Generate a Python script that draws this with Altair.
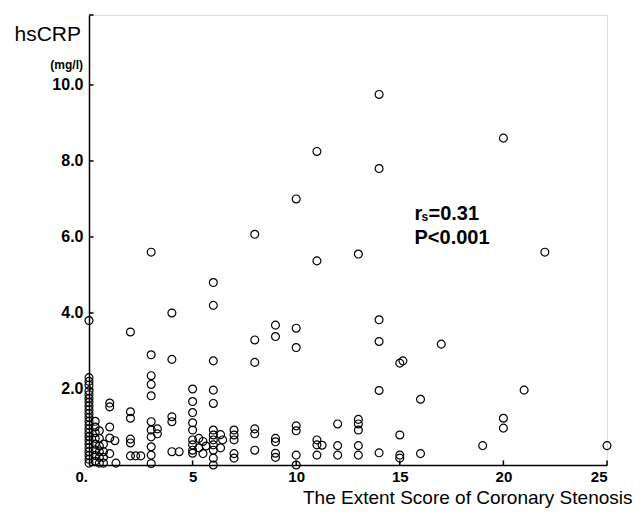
import altair as alt
import pandas as pd

# Extent score of coronary stenosis (x) and hsCRP in mg/l (y)
score = (
    [0] * 24 + [0.3] * 8 + [0.5] * 6 + [0.7] * 4 +
    [1] * 5 + [1.25, 1.3] +
    [2] * 6 + [2.25, 2.5] +
    [3] * 11 + [3.3, 3.3] +
    [4] * 5 + [4.35] +
    [5] * 9 + [5.3, 5.3, 5.5, 5.5, 5.65] +
    [6] * 12 + [6.35, 6.35, 6.45] +
    [7] * 5 +
    [8] * 6 +
    [9] * 6 +
    [10] * 7 +
    [11] * 5 + [11.25] +
    [12] * 3 +
    [13] * 6 +
    [14] * 6 +
    [15] * 4 + [15.15] +
    [16] * 2 +
    [17, 19] +
    [20] * 3 +
    [21, 22, 25]
)
hscrp = (
    [3.8, 2.3, 2.2, 2.1, 1.95, 1.85, 1.75, 1.65, 1.55, 1.45, 1.35, 1.25,
     1.15, 1.05, 0.95, 0.85, 0.75, 0.65, 0.55, 0.45, 0.35, 0.25, 0.15, 0.05] +
    [1.15, 1.0, 0.85, 0.7, 0.55, 0.4, 0.25, 0.1] +
    [0.9, 0.7, 0.5, 0.35, 0.2, 0.05] +
    [0.55, 0.35, 0.2, 0.05] +
    [1.63, 1.53, 1.0, 0.71, 0.3] + [0.64, 0.05] +
    [3.5, 1.4, 1.23, 0.68, 0.58, 0.24] + [0.24, 0.24] +
    [5.6, 2.9, 2.35, 2.12, 1.82, 1.14, 0.92, 0.74, 0.48, 0.26, 0.04] + [0.95, 0.82] +
    [4.0, 2.78, 1.27, 1.14, 0.35] + [0.35] +
    [2.0, 1.67, 1.38, 1.11, 0.92, 0.66, 0.53, 0.39, 0.31] + [0.7, 0.45, 0.62, 0.3, 0.5] +
    [4.8, 4.2, 2.74, 1.97, 1.62, 0.92, 0.79, 0.66, 0.53, 0.39, 0.18, 0.0] + [0.8, 0.45, 0.66] +
    [0.92, 0.79, 0.66, 0.3, 0.18] +
    [6.07, 3.29, 2.7, 0.95, 0.82, 0.39] +
    [3.68, 3.38, 0.7, 0.61, 0.31, 0.2] +
    [7.0, 3.6, 3.09, 1.03, 0.9, 0.26, 0.0] +
    [8.25, 5.37, 0.66, 0.53, 0.26] + [0.52] +
    [1.08, 0.51, 0.26] +
    [5.55, 1.2, 1.08, 0.92, 0.51, 0.26] +
    [9.75, 7.8, 3.82, 3.25, 1.96, 0.32] +
    [2.68, 0.79, 0.26, 0.18] + [2.74] +
    [1.73, 0.3] +
    [3.18, 0.51] +
    [8.6, 1.23, 0.97] +
    [1.97, 5.6, 0.51]
)

x_ticks = [5, 10, 15, 20, 25]
y_ticks = [2, 4, 6, 8, 10]
y_top = 11.84
x_max = 25

FONT = "Liberation Sans"

pts = pd.DataFrame({"s": score, "v": hscrp})

xs = alt.Scale(domain=[0, x_max], nice=False, zero=True)
ys = alt.Scale(domain=[0, y_top], nice=False, zero=True)

points = alt.Chart(pts).mark_point(
    shape="circle", filled=False, color="black", size=62, strokeWidth=1.2, opacity=1
).encode(
    x=alt.X("s:Q", scale=xs, axis=alt.Axis(
        values=x_ticks, ticks=False, grid=False, labelPadding=4,
        labelFontSize=15, labelFontWeight="bold", labelColor="black", labelFont=FONT,
        domainColor="black", domainWidth=1.5,
        title="The Extent Score of Coronary Stenosis", titleFont=FONT,
        titleFontSize=19, titleFontWeight="normal", titleColor="black",
        titleAlign="right", titleAnchor="end", titleBaseline="alphabetic",
        titleX=543, titleY=38)),
    y=alt.Y("v:Q", scale=ys, axis=alt.Axis(
        values=y_ticks, format=".1f", ticks=False, grid=False, labelPadding=6,
        labelFontSize=16, labelFontWeight="bold", labelColor="black", labelFont=FONT,
        domainColor="black", domainWidth=1.5, title=None)),
)

# inward tick marks
ytick_df = pd.DataFrame({"v": y_ticks + [y_top], "s0": 0.0, "s1": 0.22})
yticks = alt.Chart(ytick_df).mark_rule(color="black", strokeWidth=1.5).encode(
    x=alt.X("s0:Q", scale=xs), x2="s1:Q", y=alt.Y("v:Q", scale=ys))
xtick_df = pd.DataFrame({"s": x_ticks, "v0": 0.0, "v1": 0.12})
xticks = alt.Chart(xtick_df).mark_rule(color="black", strokeWidth=1.5).encode(
    x=alt.X("s:Q", scale=xs), y=alt.Y("v0:Q", scale=ys), y2="v1:Q")

# origin label
origin = alt.Chart(pd.DataFrame({"s": [0], "v": [0], "t": ["0."]})).mark_text(
    align="right", baseline="top", dx=-1, dy=5, fontSize=15, fontWeight="bold",
    font=FONT, color="black").encode(
    x=alt.X("s:Q", scale=xs), y=alt.Y("v:Q", scale=ys), text="t:N")

# y-axis title and unit
ytitle = alt.Chart(pd.DataFrame({"s": [0], "v": [11.32], "t": ["hsCRP"]})).mark_text(
    align="right", baseline="middle", dx=-8, fontSize=21, font=FONT, color="black").encode(
    x=alt.X("s:Q", scale=xs), y=alt.Y("v:Q", scale=ys), text="t:N")
yunit = alt.Chart(pd.DataFrame({"s": [0], "v": [10.53], "t": ["(mg/l)"]})).mark_text(
    align="right", baseline="middle", dx=-6, fontSize=12, fontWeight="bold",
    font=FONT, color="black").encode(
    x=alt.X("s:Q", scale=xs), y=alt.Y("v:Q", scale=ys), text="t:N")

# statistics annotation
ann_x = 15.71
r_txt = alt.Chart(pd.DataFrame({"s": [ann_x], "v": [6.45], "t": ["r"]})).mark_text(
    align="left", baseline="alphabetic", fontSize=20, fontWeight="bold", font=FONT,
    color="black").encode(x=alt.X("s:Q", scale=xs), y=alt.Y("v:Q", scale=ys), text="t:N")
s_txt = alt.Chart(pd.DataFrame({"s": [ann_x], "v": [6.45], "t": ["s"]})).mark_text(
    align="left", baseline="alphabetic", dx=7, dy=1, fontSize=12, fontWeight="bold",
    font=FONT, color="black").encode(
    x=alt.X("s:Q", scale=xs), y=alt.Y("v:Q", scale=ys), text="t:N")
eq_txt = alt.Chart(pd.DataFrame({"s": [ann_x], "v": [6.45], "t": ["=0.31"]})).mark_text(
    align="left", baseline="alphabetic", dx=14, fontSize=20, fontWeight="bold",
    font=FONT, color="black").encode(
    x=alt.X("s:Q", scale=xs), y=alt.Y("v:Q", scale=ys), text="t:N")
p_txt = alt.Chart(pd.DataFrame({"s": [ann_x], "v": [5.82], "t": ["P<0.001"]})).mark_text(
    align="left", baseline="alphabetic", fontSize=20, fontWeight="bold", font=FONT,
    color="black").encode(x=alt.X("s:Q", scale=xs), y=alt.Y("v:Q", scale=ys), text="t:N")

chart = alt.layer(
    points, yticks, xticks, origin, ytitle, yunit, r_txt, s_txt, eq_txt, p_txt
).properties(
    width=518, height=450,
    autosize=alt.AutoSizeParams(type="none"),
    padding={"left": 81, "top": 7, "right": 26, "bottom": 43},
    background="white",
).configure_view(stroke=None).configure(font=FONT)

chart.save("out.html", embed_options={"renderer": "svg", "actions": False})
